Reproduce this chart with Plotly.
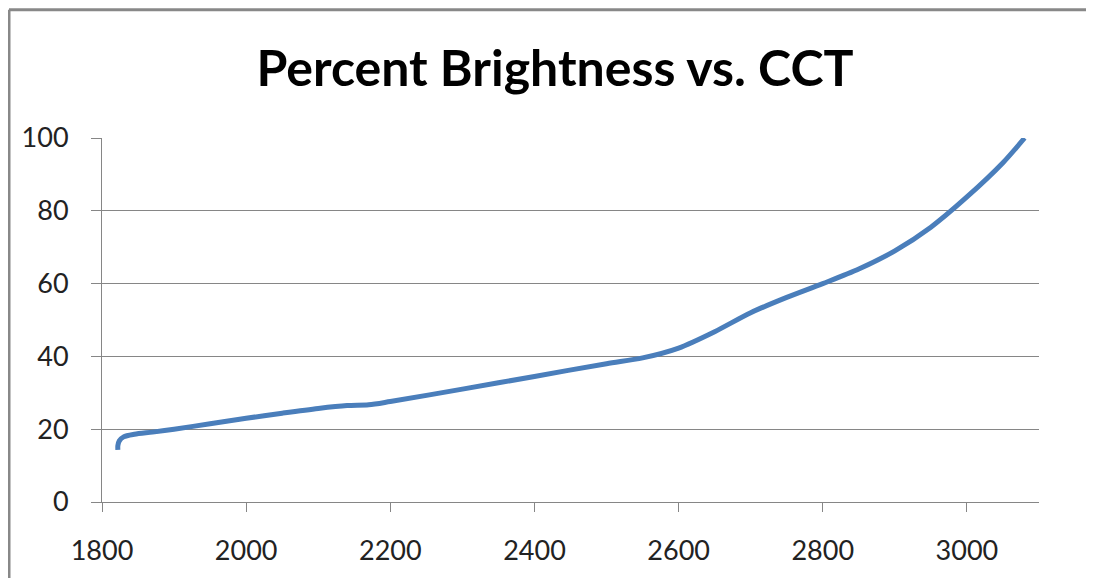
import plotly.graph_objects as go

cct = [1822, 1822, 1824, 1830, 1845, 1870, 1900, 1950, 2000, 2050, 2100, 2140, 2170,
       2200, 2300, 2400, 2500, 2550, 2600, 2650, 2700, 2750, 2800, 2850, 2900,
       2950, 3000, 3050, 3080]
brightness = [14.3, 15.5, 16.8, 17.9, 18.6, 19.2, 20.0, 21.5, 23.0, 24.4, 25.7, 26.5, 26.7,
              27.6, 31.0, 34.5, 38.0, 39.6, 42.3, 46.8, 52.0, 56.2, 60.0, 64.0, 69.0,
              75.5, 83.8, 93.2, 100.0]
x_ticks = [1800, 2000, 2200, 2400, 2600, 2800, 3000]
y_ticks = [0, 20, 40, 60, 80, 100]
title_text = "Percent Brightness vs. CCT"

# page has an 8px body margin; figure coordinates = screen - 8
OFF = 8
W, H = 1094 - OFF, 578 - OFF
L, R, T, B = 102 - OFF, 1039 - OFF, 138 - OFF, 504 - OFF

fig = go.Figure()
fig.add_trace(go.Scatter(
    x=cct, y=brightness, mode="lines",
    line=dict(color="#4a7ebb", width=5, shape="spline", smoothing=0.8),
    showlegend=False, hoverinfo="skip",
))

def px_x(p):
    return (p - L) / (R - L)

def px_y(p):
    return (B - p) / (B - T)

fig.update_layout(
    width=W, height=H,
    margin=dict(l=L, r=W - R, t=T, b=H - B),
    paper_bgcolor="white", plot_bgcolor="white",
    title=dict(text=title_text, x=(555 - OFF) / W, xanchor="center",
               y=1 - (68 - OFF) / H, yanchor="middle",
               font=dict(family="Lato", size=50, color="black", weight="bold")),
    xaxis=dict(range=[1800, 3100], tickvals=x_ticks, showgrid=False, zeroline=False,
               showline=True, linecolor="#868686", linewidth=1,
               ticks="outside", ticklen=9, tickcolor="#868686", tickwidth=1,
               tickfont=dict(family="Lato", size=27, color="#222"),
               ticklabelstandoff=16),
    yaxis=dict(range=[0, 100], tickvals=y_ticks, showgrid=True, gridcolor="#868686",
               gridwidth=1, zeroline=False, showline=True, linecolor="#868686", linewidth=1,
               ticks="outside", ticklen=10, tickcolor="#868686", tickwidth=1,
               tickfont=dict(family="Lato", size=27, color="#222"),
               ticklabelstandoff=17),
    shapes=[
        dict(type="line", xref="paper", yref="paper",
             x0=px_x(1), x1=px_x(W + 5), y0=px_y(1), y1=px_y(1),
             line=dict(color="#888888", width=3)),
        dict(type="line", xref="paper", yref="paper",
             x0=px_x(1), x1=px_x(1), y0=px_y(1), y1=px_y(H + 5),
             line=dict(color="#888888", width=3)),
    ],
)

fig.write_html("out.html")
